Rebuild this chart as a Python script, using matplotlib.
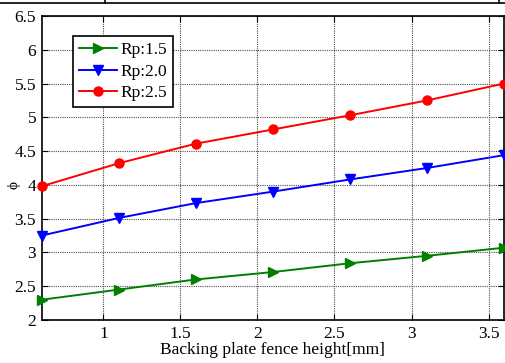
import matplotlib
matplotlib.use("Agg")
import matplotlib.pyplot as plt
from matplotlib.lines import Line2D

plt.rcParams['font.family'] = ['Liberation Serif', 'DejaVu Serif']

x = [0.6, 1.1, 1.6, 2.1, 2.6, 3.1, 3.6]
rp15 = [2.30, 2.45, 2.60, 2.71, 2.84, 2.95, 3.07]
rp20 = [3.25, 3.51, 3.73, 3.90, 4.08, 4.25, 4.44]
rp25 = [3.98, 4.32, 4.61, 4.82, 5.03, 5.25, 5.50]
labels = ['Rp:1.5', 'Rp:2.0', 'Rp:2.5']
xticks = [1, 1.5, 2, 2.5, 3, 3.5]
yticks = [2, 2.5, 3, 3.5, 4, 4.5, 5, 5.5, 6, 6.5]

fig = plt.figure(figsize=(5.05, 3.63), dpi=100)
ax = fig.add_axes([41.7/505, 43/363, (504-41.7)/505, 304/363])

ax.plot(x, rp15, color=(0, 0.5, 0), lw=1.4, marker='>', ms=7.5, label=labels[0], clip_on=False, zorder=3)
ax.plot(x, rp20, color=(0, 0, 1), lw=1.4, marker='v', ms=7.5, label=labels[1], clip_on=False, zorder=3)
ax.plot(x, rp25, color=(1, 0, 0), lw=1.4, marker='o', ms=6.5, label=labels[2], clip_on=False, zorder=3)

ax.set_xlim(0.6, 3.6)
ax.set_ylim(2, 6.5)
ax.set_xticks(xticks)
ax.set_xticklabels([f'{t:g}' for t in xticks])
ax.set_yticks(yticks)
ax.set_yticklabels([f'{t:g}' for t in yticks])
ax.tick_params(direction='in', top=True, right=True, labelsize=12.5, length=4, width=0.8, pad=4)
ax.grid(True, color='0.3', linestyle=(0, (1, 1)), linewidth=0.8)
for s in ax.spines.values():
    s.set_linewidth(1.2)

ax.set_xlabel('Backing plate fence height[mm]', fontsize=12.5, labelpad=0)
fig.text(14/505, 1 - 185/363, 'ϕ', fontsize=11, rotation=90, ha='center', va='center')

leg = ax.legend(loc='upper left', bbox_to_anchor=((73-41.7)/462.3, (320-36)/304), fontsize=12.5,
                frameon=True, fancybox=False, framealpha=1, edgecolor='k', borderpad=0.35,
                handlelength=2.2, handletextpad=0.2, labelspacing=0.3, borderaxespad=0)
leg.get_frame().set_linewidth(1.2)

# table border remnants at top
fig.add_artist(Line2D([0, 1], [1 - 3/363, 1 - 3/363], color='k', lw=1.2, transform=fig.transFigure))
fig.add_artist(Line2D([105/505, 105/505], [1, 1 - 3/363], color='k', lw=1.2, transform=fig.transFigure))
fig.add_artist(Line2D([499/505, 499/505], [1, 1 - 3/363], color='k', lw=1.2, transform=fig.transFigure))

fig.savefig('out.png', dpi=100)
